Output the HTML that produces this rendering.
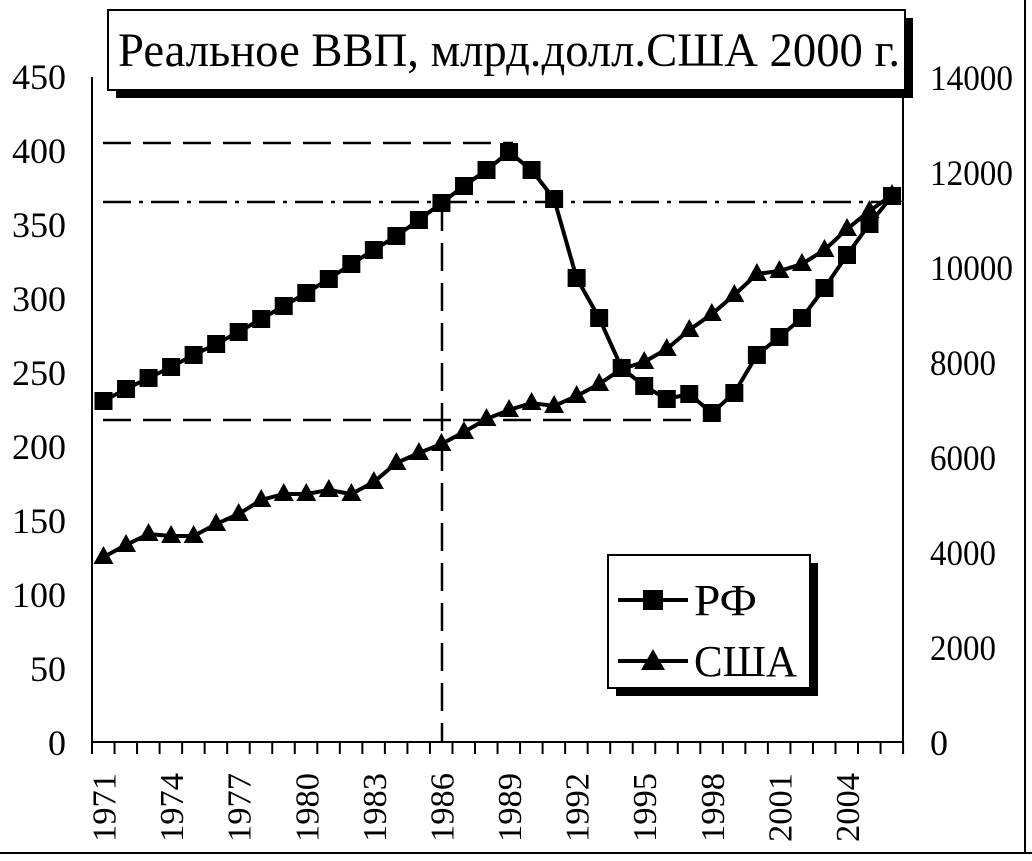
<!DOCTYPE html>
<html><head><meta charset="utf-8"><style>
body{margin:0;background:#fff}
svg{display:block}
text{font-family:"Liberation Serif",serif;fill:#000}
</style></head><body>
<svg width="1032" height="861" viewBox="0 0 1032 861" xmlns="http://www.w3.org/2000/svg">
<rect x="0" y="0" width="1032" height="861" fill="#fff"/>
<line x1="0" y1="853" x2="1032" y2="853" stroke="#000" stroke-width="2"/>
<line x1="1025" y1="0" x2="1025" y2="853" stroke="#000" stroke-width="2"/>
<g id="ax" stroke="#000" stroke-width="2" fill="none">
<line x1="92" y1="77" x2="92" y2="743"/>
<line x1="903" y1="77" x2="903" y2="743"/>
<line x1="92" y1="742" x2="903" y2="742"/>
</g>
<g font-size="36" text-anchor="end">
<text x="66" y="755">0</text><text x="66" y="681">50</text><text x="66" y="607">100</text><text x="66" y="533">150</text><text x="66" y="459">200</text><text x="66" y="385">250</text><text x="66" y="311">300</text><text x="66" y="237">350</text><text x="66" y="163">400</text><text x="66" y="89">450</text>
</g>
<g font-size="36" text-anchor="start">
<text x="930" y="755">0</text><text x="930" y="660" textLength="66" lengthAdjust="spacingAndGlyphs">2000</text><text x="930" y="565" textLength="66" lengthAdjust="spacingAndGlyphs">4000</text><text x="930" y="470" textLength="66" lengthAdjust="spacingAndGlyphs">6000</text><text x="930" y="375" textLength="66" lengthAdjust="spacingAndGlyphs">8000</text><text x="930" y="280" textLength="83" lengthAdjust="spacingAndGlyphs">10000</text><text x="930" y="185" textLength="83" lengthAdjust="spacingAndGlyphs">12000</text><text x="930" y="90" textLength="83" lengthAdjust="spacingAndGlyphs">14000</text>
</g>
<g id="ticks" stroke="#000" stroke-width="2"></g>
<g id="xl" font-size="34"></g>
<g stroke="#000" stroke-width="2.5" fill="none">
<polyline points="103,143 513,143" stroke-dasharray="28,12"/>
<polyline points="103,420 705,420" stroke-dasharray="28,12"/>
<polyline points="442,203 442,742" stroke-dasharray="28,12"/>
<polyline points="103,202 891,202" stroke-dasharray="28,8,4,8"/>
</g>
<polyline id="rf" fill="none" stroke="#000" stroke-width="4"/>
<polyline id="us" fill="none" stroke="#000" stroke-width="4"/>
<g id="rfm"></g><g id="usm"></g>
<rect x="116" y="18" width="797" height="80" fill="#000"/>
<rect x="108" y="10" width="797" height="80" fill="#fff" stroke="#000" stroke-width="2"/>
<text x="118" y="66" font-size="48" textLength="782" lengthAdjust="spacingAndGlyphs">Реальное ВВП, млрд.долл.США 2000 г.</text>
<rect x="616" y="563" width="202" height="133" fill="#000"/>
<rect x="608" y="555" width="202" height="133" fill="#fff" stroke="#000" stroke-width="2"/>
<line x1="618" y1="600" x2="688" y2="600" stroke="#000" stroke-width="4"/>
<rect x="643" y="590" width="20" height="20" fill="#000"/>
<text x="694" y="615" font-size="44" textLength="63" lengthAdjust="spacingAndGlyphs">РФ</text>
<line x1="618" y1="661" x2="688" y2="661" stroke="#000" stroke-width="4"/>
<polygon points="653,649 665,670 641,670" fill="#000"/>
<text x="694" y="676" font-size="44" textLength="103" lengthAdjust="spacingAndGlyphs">США</text>
</svg>
<script>
var rf=[401,389,378,367,355,344,332,319,306,293,279,264,250,236,220,203,186,170,152,170,199,278,318,368,386,399,394,413,393,355,337,318,288,255,224,196];
var us=[557,545,534,536,536,524,514,500,494,494,490,494,482,463,453,444,432,419,410,403,406,396,384,369,362,349,330,314,295,274,271,264,250,229,211,195];
var ns="http://www.w3.org/2000/svg";
function X(i){return 103.5+i*22.53;}
function el(t,a,p){var e=document.createElementNS(ns,t);for(var k in a)e.setAttribute(k,a[k]);document.getElementById(p).appendChild(e);return e;}
document.getElementById('rf').setAttribute('points',rf.map(function(y,i){return X(i)+','+y}).join(' '));
document.getElementById('us').setAttribute('points',us.map(function(y,i){return X(i)+','+y}).join(' '));
rf.forEach(function(y,i){el('rect',{x:X(i)-9,y:y-9,width:18,height:18,fill:'#000'},'rfm');});
us.forEach(function(y,i){var x=X(i);el('polygon',{points:x+','+(y-11)+' '+(x+10)+','+(y+7)+' '+(x-10)+','+(y+7),fill:'#000'},'usm');});
for(var i=0;i<=36;i++){var x=92+i*22.53;el('line',{x1:x,y1:742,x2:x,y2:754},'ticks');}
for(var i=0;i<36;i+=3){var x=X(i)+12,t=el('text',{x:0,y:0,transform:'translate('+x+',842) rotate(-90)',textLength:69,lengthAdjust:'spacingAndGlyphs'},'xl');t.textContent=1971+i;}
</script>
</body></html>
